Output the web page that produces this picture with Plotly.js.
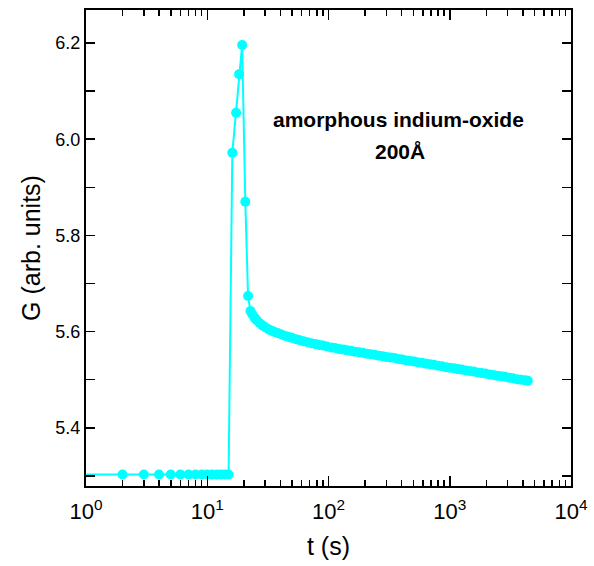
<!DOCTYPE html>
<html>
<head>
<meta charset="utf-8">
<script src="https://cdn.plot.ly/plotly-3.0.1.min.js"></script>
<style>html,body{margin:0;padding:0;background:#fff;}#chart{width:594px;height:566px;}</style>
</head>
<body>
<div id="chart"></div>
<script>
// time (s)
var timeS = [1, 2, 3, 4, 5, 6, 7, 8, 9, 10, 11, 12, 13, 14, 15,
  16.1, 17.3, 18.3, 19.4, 20.6, 21.7,
  22.7, 23.5, 24.5, 25.5, 27, 28.5, 30, 32, 34, 36, 38, 41, 44, 47, 50, 54, 58, 62, 67, 72, 78, 84, 90, 97,
  105, 113, 122, 132, 142, 153, 165, 178, 192, 207, 223, 240, 259, 279, 301, 325, 350, 377, 406, 438, 472,
  509, 549, 592, 638, 688, 741, 799, 861, 928, 1000, 1078, 1162, 1252, 1350, 1455, 1568, 1690, 1822, 1964,
  2117, 2282, 2460, 2651, 2858, 3080, 3320, 3579, 3858, 4160, 4400];
// conductance G (arb. units)
var conductance = [5.303, 5.303, 5.303, 5.303, 5.303, 5.303, 5.303, 5.303, 5.303, 5.303, 5.303, 5.303, 5.303, 5.303, 5.303,
  5.972, 6.055, 6.135, 6.196, 5.870, 5.674,
  5.643, 5.636, 5.629, 5.624, 5.618, 5.613, 5.609, 5.605, 5.602, 5.599, 5.597, 5.594, 5.591, 5.589, 5.587, 5.584, 5.582, 5.580, 5.578, 5.576, 5.574, 5.572, 5.571, 5.569,
  5.567, 5.566, 5.564, 5.563, 5.561, 5.560, 5.558, 5.557, 5.556, 5.554, 5.553, 5.552, 5.550, 5.549, 5.547, 5.546, 5.545, 5.543, 5.542, 5.540, 5.539,
  5.538, 5.536, 5.535, 5.533, 5.532, 5.531, 5.529, 5.528, 5.526, 5.525, 5.524, 5.522, 5.521, 5.519, 5.518, 5.517, 5.515, 5.514, 5.513,
  5.511, 5.510, 5.508, 5.507, 5.506, 5.504, 5.503, 5.501, 5.500, 5.499, 5.498];
// x tick labels
var xTickVals = [1, 10, 100, 1000, 10000];
var xTickText = ['10<sup>0</sup>', '10<sup>1</sup>', '10<sup>2</sup>', '10<sup>3</sup>', '10<sup>4</sup>'];
var annotationLines = ['amorphous indium-oxide', '200Å'];

var minorX = [];
for (var d = 0; d < 4; d++) {
  for (var k = 2; k <= 9; k++) minorX.push(k * Math.pow(10, d));
}
var markerSizes = timeS.map(function (v) { return v < 1.5 ? 0 : 10; });

var cyan = '#00FFFF';
var fontFam = 'Liberation Sans, Arial, sans-serif';

var trace = {
  x: timeS, y: conductance, type: 'scatter', mode: 'lines+markers',
  line: {color: cyan, width: 2},
  marker: {color: cyan, size: markerSizes, opacity: 1, line: {width: 0}},
  hoverinfo: 'x+y'
};

var layout = {
  width: 594, height: 566,
  margin: {l: 86, r: 23, t: 10, b: 80},
  paper_bgcolor: '#fff', plot_bgcolor: '#fff',
  showlegend: false,
  font: {family: fontFam, color: '#000'},
  xaxis: {
    type: 'log', range: [0, 4],
    tickmode: 'array', tickvals: xTickVals, ticktext: xTickText,
    ticks: 'inside', ticklen: 10, tickwidth: 1.5, tickcolor: '#000',
    ticklabelstandoff: 5,
    showline: true, linewidth: 2, linecolor: '#000', mirror: 'ticks',
    showgrid: false, zeroline: false,
    tickfont: {size: 22, family: fontFam, color: '#000'},
    minor: {tickmode: 'array', tickvals: minorX, ticks: 'inside', ticklen: 6, tickwidth: 1.5, tickcolor: '#000', showgrid: false},
    title: {text: 't (s)', font: {size: 25, family: fontFam, color: '#000'}, standoff: 14}
  },
  yaxis: {
    range: [5.279, 6.2686],
    tickmode: 'linear', tick0: 5.4, dtick: 0.2, tickformat: '.1f',
    ticks: 'inside', ticklen: 9, tickwidth: 1.5, tickcolor: '#000',
    showline: true, linewidth: 2, linecolor: '#000', mirror: 'ticks',
    showgrid: false, zeroline: false,
    tickfont: {size: 18, family: fontFam, color: '#000'},
    minor: {dtick: 0.1, ticks: 'inside', ticklen: 9, tickwidth: 1.5, tickcolor: '#000', showgrid: false},
    title: {text: 'G (arb. units)', font: {size: 25, family: fontFam, color: '#000'}, standoff: 8}
  },
  annotations: [
    {xref: 'paper', yref: 'paper', x: 0.645, y: 0.769, text: '<b>' + annotationLines[0] + '</b>',
     showarrow: false, xanchor: 'center', yanchor: 'middle', font: {size: 21, family: fontFam, color: '#000'}},
    {xref: 'paper', yref: 'paper', x: 0.647, y: 0.702, text: '<b>' + annotationLines[1] + '</b>',
     showarrow: false, xanchor: 'center', yanchor: 'middle', font: {size: 21, family: fontFam, color: '#000'}}
  ]
};

Plotly.newPlot('chart', [trace], layout, {displayModeBar: false, staticPlot: true});
</script>
</body>
</html>
